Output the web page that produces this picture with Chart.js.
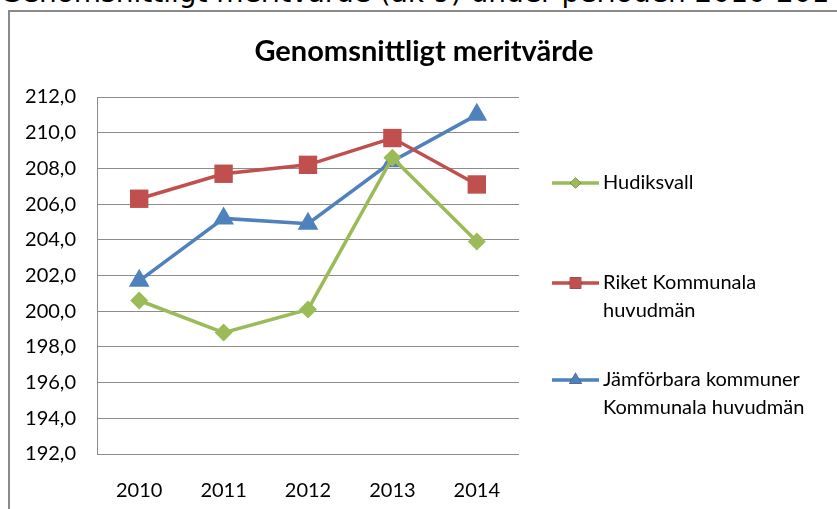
<!DOCTYPE html>
<html>
<head>
<meta charset="utf-8">
<script src="https://cdn.jsdelivr.net/npm/chart.js@4/dist/chart.umd.min.js"></script>
<style>
  html, body { margin: 0; padding: 0; background: #fff; }
  #wrap { position: relative; width: 837px; height: 509px; overflow: hidden; background: #fff; }
  #caption { position: absolute; left: 0; top: -21px; font-family: "DejaVu Sans", sans-serif; font-size: 28px; line-height: 28px; white-space: nowrap; color: #000; }
  #frame { position: absolute; left: 8px; top: 10px; width: 900px; height: 600px; border-left: 2px solid #8a8a8a; border-top: 2px solid #8a8a8a; }
  canvas { position: absolute; left: 0; top: 0; }
</style>
</head>
<body>
<div id="wrap">
  <div id="caption">Genomsnittligt meritvärde (åk 9) under perioden 2010-2014</div>
  <canvas id="c" width="837" height="509"></canvas>
  <div id="frame"></div>
</div>
<script>
const chartTitle = "Genomsnittligt meritvärde";
const years = ["2010", "2011", "2012", "2013", "2014"];
const hudiksvall = [200.6, 198.8, 200.1, 208.6, 203.9];
const riket = [206.3, 207.7, 208.2, 209.7, 207.1];
const jamforbara = [201.7, 205.2, 204.9, 208.4, 211.0];
const seriesNames = ["Hudiksvall", ["Riket Kommunala", "huvudmän"], ["Jämförbara kommuner", "Kommunala huvudmän"]];

const FONT = "Lato, 'Open Sans', sans-serif";

const overlay = {
  id: 'overlay',
  afterDraw(chart) {
    const ctx = chart.ctx;
    ctx.save();
    // title
    ctx.fillStyle = '#000';
    ctx.font = "bold 29px " + FONT;
    ctx.textAlign = 'center';
    ctx.textBaseline = 'middle';
    ctx.fillText(chartTitle, 424, 52);
    // legend
    const ys = [183, 283, 380];
    ctx.font = "20px " + FONT;
    ctx.textAlign = 'left';
    chart.data.datasets.forEach((ds, i) => {
      const y = ys[i];
      ctx.strokeStyle = ds.borderColor;
      ctx.lineWidth = ds.borderWidth;
      ctx.beginPath();
      ctx.moveTo(552, y);
      ctx.lineTo(599, y);
      ctx.stroke();
      Chart.helpers.drawPoint(ctx, {
        pointStyle: ds.pointStyle,
        radius: ds.pointRadius * 0.62,
        borderWidth: 0,
        rotation: 0
      }, 575.5, y);
      ctx.fillStyle = ds.backgroundColor;
      ctx.fill();
      ctx.fillStyle = '#000';
      const lines = Array.isArray(seriesNames[i]) ? seriesNames[i] : [seriesNames[i]];
      lines.forEach((t, k) => ctx.fillText(t, 603, y + k * 28));
    });
    ctx.restore();
  }
};

new Chart(document.getElementById('c'), {
  type: 'line',
  data: {
    labels: years,
    datasets: [
      { label: "Hudiksvall", data: hudiksvall, borderColor: '#9BBB59', backgroundColor: '#9BBB59',
        borderWidth: 3.5, pointStyle: 'rectRot', pointRadius: 9, pointBorderWidth: 0, tension: 0 },
      { label: "Riket Kommunala huvudmän", data: riket, borderColor: '#C0504D', backgroundColor: '#C0504D',
        borderWidth: 3.5, pointStyle: 'rect', pointRadius: 13, pointBorderWidth: 0, tension: 0 },
      { label: "Jämförbara kommuner Kommunala huvudmän", data: jamforbara, borderColor: '#4F81BD', backgroundColor: '#4F81BD',
        borderWidth: 3.5, pointStyle: 'triangle', pointRadius: 12, pointBorderWidth: 0, tension: 0 }
    ]
  },
  options: {
    responsive: false,
    animation: false,
    events: [],
    layout: { padding: { left: 10, top: 97, right: 318, bottom: 0 } },
    plugins: { legend: { display: false }, title: { display: false }, tooltip: { enabled: false } },
    scales: {
      x: {
        offset: true,
        grid: { display: false, drawTicks: false },
        border: { display: false },
        ticks: { padding: 25, color: '#000', font: { family: FONT, size: 20 } },
        afterFit(s) { s.height = 55; }
      },
      y: {
        min: 192, max: 212,
        grid: { color: '#8c8c8c', lineWidth: 1, drawTicks: false },
        border: { display: true, color: '#8c8c8c', width: 1 },
        ticks: { stepSize: 2, padding: 21, color: '#000', font: { family: FONT, size: 20 },
          callback: v => v.toFixed(1).replace('.', ',') },
        afterFit(s) { s.width = 87; }
      }
    }
  },
  plugins: [overlay]
});
</script>
</body>
</html>
